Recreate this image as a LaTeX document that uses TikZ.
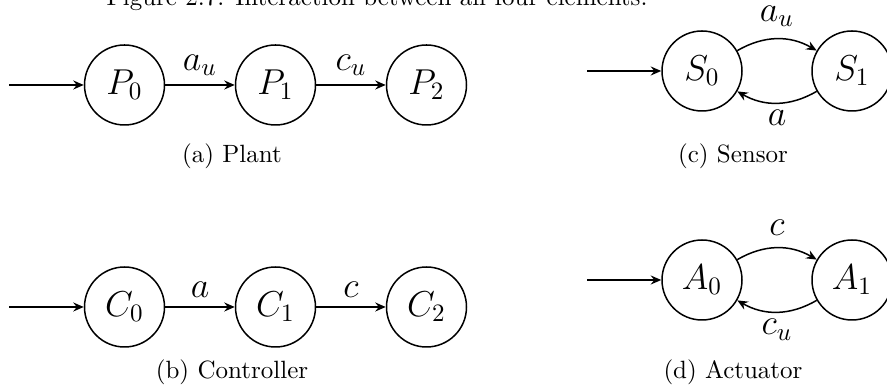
\documentclass[tikz,border=0pt]{standalone}
\usetikzlibrary{arrows.meta}
\begin{document}
\begin{tikzpicture}[x=0.4pt,y=0.4pt,
  st/.style={circle,draw,line width=0.6pt,minimum size=32pt,inner sep=0pt,font=\fontsize{14}{16}\selectfont},
  tr/.style={-{Stealth[length=4.2pt,width=3.6pt,inset=1.4pt]},line width=0.6pt},
  lbl/.style={font=\fontsize{14}{16}\selectfont},
  lblup/.style={lbl,above,inner sep=1pt,yshift=3.7pt},
  lbldown/.style={lbl,below,inner sep=1pt,yshift=-1.7pt},
  captxt/.style={font=\fontsize{10}{12}\selectfont,anchor=base}]
\useasboundingbox (0,0) rectangle (887,-390);
% title (cut off at the top)
\node[captxt] (title) at (377,-6) {Figure 2.7: Interaction between all four elements.};
% (a) Plant
\coordinate (ps) at (9,-85);
\node[st] (P0) at (124.5,-85) {$P_0$};
\node[st] (P1) at (275.5,-85) {$P_1$};
\node[st] (P2) at (426.5,-85) {$P_2$};
\draw[tr] (ps) -- (P0);
\draw[tr] (P0) -- node[above,lbl] {$a_u$} (P1);
\draw[tr] (P1) -- node[above,lbl] {$c_u$} (P2);
\node[captxt] (capa) at (232,-163) {(a) Plant};
% (b) Controller
\coordinate (cs) at (9,-307);
\node[st] (C0) at (124.5,-307) {$C_0$};
\node[st] (C1) at (275.5,-307) {$C_1$};
\node[st] (C2) at (426.5,-307) {$C_2$};
\draw[tr] (cs) -- (C0);
\draw[tr] (C0) -- node[above,lbl] {$a$} (C1);
\draw[tr] (C1) -- node[above,lbl] {$c$} (C2);
\node[captxt] (capb) at (232,-379) {(b) Controller};
% (c) Sensor
\coordinate (ss) at (587,-71);
\node[st] (S0) at (702,-71) {$S_0$};
\node[st] (S1) at (852,-71) {$S_1$};
\draw[tr] (ss) -- (S0);
\draw[tr] (S0) to[bend left=30] node[lblup] {$a_u$} (S1);
\draw[tr] (S1) to[bend left=30] node[lbldown] {$a$} (S0);
\node[captxt] (capc) at (733,-163) {(c) Sensor};
% (d) Actuator
\coordinate (as) at (587,-280);
\node[st] (A0) at (702,-280) {$A_0$};
\node[st] (A1) at (852,-280) {$A_1$};
\draw[tr] (as) -- (A0);
\draw[tr] (A0) to[bend left=30] node[lblup] {$c$} (A1);
\draw[tr] (A1) to[bend left=30] node[lbldown] {$c_u$} (A0);
\node[captxt] (capd) at (733,-379) {(d) Actuator};
\end{tikzpicture}
\end{document}
